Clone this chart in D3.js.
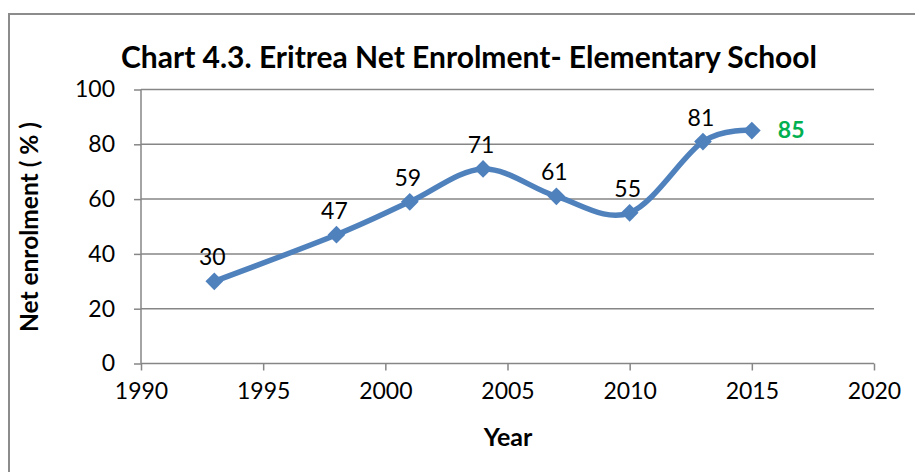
<!DOCTYPE html>
<html>
<head>
<meta charset="utf-8">
<script src="https://cdn.jsdelivr.net/npm/d3@7"></script>
<style>
  html, body { margin: 0; padding: 0; background: #fff; }
  svg { display: block; }
  text { font-family: Lato, "Open Sans", sans-serif; fill: #000; }
</style>
</head>
<body>
<svg id="chart" width="915" height="472"></svg>
<script>
// Net enrolment in elementary school, Eritrea
const years = [1993, 1998, 2001, 2004, 2007, 2010, 2013, 2015];
const enrolment = [30, 47, 59, 71, 61, 55, 81, 85];
const xTicks = [1990, 1995, 2000, 2005, 2010, 2015, 2020];
const yTicks = [0, 20, 40, 60, 80, 100];
const highlightYear = 2015;

const svg = d3.select("#chart");
const W = 915, H = 472;
const plot = { left: 141, right: 874, top: 89.5, bottom: 363.5 };

// chart frame
svg.append("rect")
  .attr("x", 9).attr("y", 14)
  .attr("width", W + 20).attr("height", H + 20)
  .attr("fill", "#fff")
  .attr("stroke", "#8c8c8c").attr("stroke-width", 2);

const x = d3.scaleLinear().domain([1990, 2020]).range([plot.left, plot.right]);
const y = d3.scaleLinear().domain([0, 100]).range([plot.bottom, plot.top]);

const gridColor = "#868686";

// horizontal gridlines
svg.append("g")
  .selectAll("line")
  .data(yTicks.filter(d => d > 0))
  .join("line")
  .attr("x1", plot.left).attr("x2", plot.right)
  .attr("y1", d => y(d)).attr("y2", d => y(d))
  .attr("stroke", gridColor).attr("stroke-width", 1.5);

// y axis
const yAxis = svg.append("g")
  .attr("transform", `translate(${plot.left},0)`)
  .call(d3.axisLeft(y).tickValues(yTicks).tickSize(7).tickPadding(19).tickFormat(d3.format("d")));
yAxis.select(".domain").attr("stroke", gridColor).attr("stroke-width", 1.5).attr("d", `M0,${plot.top}V${plot.bottom}`);
yAxis.selectAll(".tick line").attr("stroke", gridColor).attr("stroke-width", 1.5);
yAxis.selectAll(".tick text")
  .style("font-family", "Lato, 'Open Sans', sans-serif")
  .style("font-size", "23px").attr("fill", "#000");

// x axis
const xAxis = svg.append("g")
  .attr("transform", `translate(0,${plot.bottom})`)
  .call(d3.axisBottom(x).tickValues(xTicks).tickSize(7).tickPadding(12).tickFormat(d3.format("d")));
xAxis.select(".domain").attr("stroke", gridColor).attr("stroke-width", 1.5).attr("d", `M${plot.left},0H${plot.right}`);
xAxis.selectAll(".tick line").attr("stroke", gridColor).attr("stroke-width", 1.5);
xAxis.selectAll(".tick text")
  .style("font-family", "Lato, 'Open Sans', sans-serif")
  .style("font-size", "23px").attr("fill", "#000");

// smoothed series line
const data = years.map((yr, i) => ({ year: yr, value: enrolment[i] }));
const line = d3.line()
  .x(d => x(d.year)).y(d => y(d.value))
  .curve(d3.curveCardinal.tension(0));
const blue = "#4F81BD";
svg.append("path")
  .datum(data)
  .attr("d", line)
  .attr("fill", "none")
  .attr("stroke", blue)
  .attr("stroke-width", 5.5)
  .attr("stroke-linejoin", "round");

// diamond markers
const diamond = d3.symbol().type(d3.symbolDiamond2).size(200);
svg.append("g")
  .selectAll("path")
  .data(data)
  .join("path")
  .attr("d", diamond)
  .attr("transform", d => `translate(${x(d.year)},${y(d.value)})`)
  .attr("fill", blue);

// value labels
svg.append("g")
  .selectAll("text")
  .data(data)
  .join("text")
  .attr("x", d => d.year === highlightYear ? x(d.year) + 26 : x(d.year) - 2)
  .attr("y", d => d.year === highlightYear ? y(d.value) + 1 : y(d.value) - 16)
  .attr("text-anchor", d => d.year === highlightYear ? "start" : "middle")
  .attr("dominant-baseline", d => d.year === highlightYear ? "middle" : "auto")
  .style("font-size", d => d.year === highlightYear ? "23px" : "23px")
  .style("font-weight", d => d.year === highlightYear ? "bold" : "normal")
  .style("fill", d => d.year === highlightYear ? "#00B050" : "#000")
  .text(d => d.value);

// title
svg.append("text")
  .attr("x", 469).attr("y", 68)
  .attr("text-anchor", "middle")
  .style("font-size", "30px").style("font-weight", "bold")
  .text("Chart 4.3. Eritrea Net Enrolment- Elementary School");

// axis titles
svg.append("text")
  .attr("transform", `translate(38,227) rotate(-90)`)
  .attr("text-anchor", "middle")
  .style("font-size", "24.5px").style("font-weight", "bold")
  .text("Net enrolment ( % )");

svg.append("text")
  .attr("x", 508).attr("y", 446)
  .attr("text-anchor", "middle")
  .style("font-size", "25px").style("font-weight", "bold")
  .text("Year");
</script>
</body>
</html>
